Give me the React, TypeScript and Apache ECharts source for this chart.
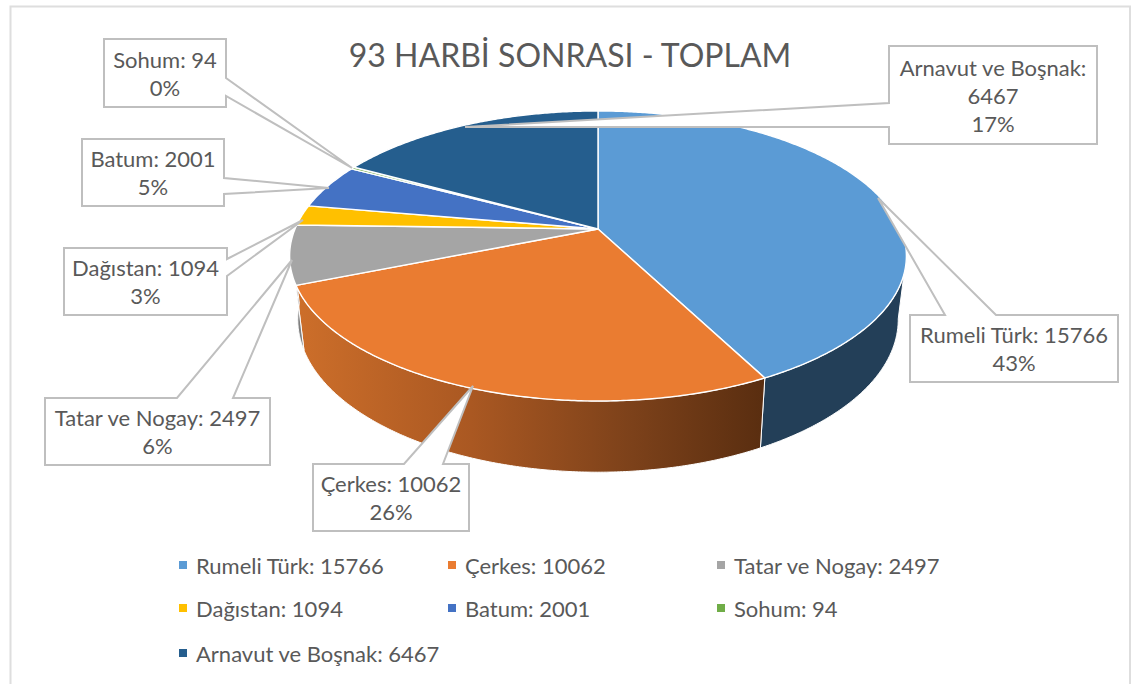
import React, { useEffect, useRef } from "react";
import * as echarts from "echarts";

const TITLE = "93 HARBİ SONRASI - TOPLAM";
const categories = ["Rumeli Türk", "Çerkes", "Tatar ve Nogay", "Dağıstan", "Batum", "Sohum", "Arnavut ve Boşnak"];
const values = [15766, 10062, 2497, 1094, 2001, 94, 6467];
const percentLabels = ["43%", "26%", "6%", "3%", "5%", "0%", "17%"];

const topColors = ["#5B9BD5", "#EA7C31", "#A5A5A5", "#FFC000", "#4472C4", "#70AD47", "#255E8E"];
const FONT = "Lato";
const TEXT = "#595959";
const LINE = "#BFBFBF";

// Projection of the pie's disc (perspective view)
const CX = 598, K = 0.186;
const TOP = { R: 303, hub: 229, S: 140 };
const BOTTOM = { R: 295, hub: 291, S: 147.5 };

const smooth = (a: number, b: number, t: number) => {
  const u = Math.min(1, Math.max(0, (t - a) / (b - a)));
  return u * u * (3 - 2 * u);
};
const warp = (deg: number) => deg + 3.2 * smooth(0, 140, deg) * (1 - smooth(268, 285, deg));
const project = (deg: number, f: { R: number; hub: number; S: number }) => {
  const t = (warp(deg) * Math.PI) / 180;
  const a = Math.sin(t), b = -Math.cos(t), d = 1 - K * b;
  return [CX + (f.R * a) / d, f.hub + (f.S * b) / d];
};
const arc = (d0: number, d1: number, f: any) => {
  const n = Math.max(2, Math.ceil(Math.abs(d1 - d0) / 0.5));
  const pts: number[][] = [];
  for (let i = 0; i <= n; i++) pts.push(project(d0 + ((d1 - d0) * i) / n, f));
  return pts;
};

const total = values.reduce((s, v) => s + v, 0);
const startDeg = (i: number) => (values.slice(0, i).reduce((s, v) => s + v, 0) / total) * 360;

const orangeSide = () =>
  new echarts.graphic.LinearGradient(300, 0, 762, 0, [
    { offset: 0, color: "#CC6E2A" },
    { offset: 0.37, color: "#AA5822" },
    { offset: 0.72, color: "#7C411A" },
    { offset: 1, color: "#5A2E10" },
  ], true);
const sideFill = (i: number): any =>
  i === 0 ? "#233F58" : i === 1 ? orangeSide() : i === 2 ? "#7F7F7F" : "#555";

const renderSlice = (i: number) => () => {
  const d0 = startDeg(i), d1 = startDeg(i + 1);
  const children: any[] = [];
  const s0 = Math.max(d0, 98), s1 = Math.min(d1, 262);
  if (s1 > s0) {
    children.push({
      type: "polygon",
      shape: { points: [...arc(s0, s1, TOP), ...arc(s1, s0, BOTTOM)] },
      style: { fill: sideFill(i), stroke: "#fff", lineWidth: 1 },
    });
  }
  children.push({
    type: "polygon",
    z2: 5,
    shape: { points: [[CX, TOP.hub], ...arc(d0, d1, TOP)] },
    style: { fill: topColors[i], stroke: "#fff", lineWidth: 1.4, lineJoin: "round" },
  });
  return { type: "group", children };
};

// Callouts: box [x0, y0, x1, y1], then the tail as [base, tip, base]
const callouts = [
  { lines: (n: string) => [n], box: [910, 315, 1118, 382], tail: [[945, 315], [878, 198], [996, 315]], edge: "top" },
  { lines: (n: string) => [n], box: [313, 464, 469, 531], tail: [[404, 464], [473, 386], [443, 464]], edge: "top" },
  { lines: (n: string) => [n], box: [45, 398, 270, 465], tail: [[177, 398], [292, 260], [233, 398]], edge: "top" },
  { lines: (n: string) => [n], box: [64, 248, 227, 315], tail: [[227, 259], [303, 220], [227, 276]], edge: "right" },
  { lines: (n: string) => [n], box: [82, 139, 224, 206], tail: [[224, 178], [329, 188], [224, 194]], edge: "right" },
  { lines: (n: string) => [n], box: [104, 39, 226, 107], tail: [[226, 78], [352, 168], [226, 96]], edge: "right" },
  { lines: (n: string) => [n.replace(": ", ":\n")], box: [889, 46, 1097, 144], tail: [[889, 103], [465, 127], [889, 127]], edge: "left" },
];

const calloutOutline = (c: any) => {
  const [x0, y0, x1, y1] = c.box;
  if (c.edge === "top") return [[x0, y0], ...c.tail, [x1, y0], [x1, y1], [x0, y1]];
  if (c.edge === "right") return [[x0, y0], [x1, y0], ...c.tail, [x1, y1], [x0, y1]];
  return [[x0, y0], [x1, y0], [x1, y1], [x0, y1], ...[...c.tail].reverse()];
};

const seriesNames = categories.map((c, i) => `${c}: ${values[i]}`);
const legendSpots = [
  [179, 554], [448, 554], [717, 554],
  [179, 597], [448, 597], [717, 597],
  [179, 642],
];

export default function App() {
  const ref = useRef<HTMLDivElement>(null);
  useEffect(() => {
    const chart = echarts.init(ref.current!, null, { renderer: "svg" });
    const graphics: any[] = [
      {
        type: "rect",
        silent: true,
        z: 0,
        shape: { x: 10.5, y: 6.5, width: 1119.5, height: 720 },
        style: { fill: "none", stroke: "#DEDEDE", lineWidth: 2 },
      },
    ];
    callouts.forEach((c, i) => {
      graphics.push({
        type: "polygon",
        z: 100,
        shape: { points: calloutOutline(c) },
        style: { fill: "#fff", stroke: LINE, lineWidth: 2 },
      });
      const [x0, y0, x1, y1] = c.box;
      graphics.push({
        type: "text",
        z: 101,
        x: (x0 + x1) / 2,
        y: (y0 + y1) / 2,
        style: {
          text: `${c.lines(seriesNames[i])[0]}\n${percentLabels[i]}`,
          fill: TEXT,
          font: `22px ${FONT}`,
          lineHeight: 28,
          align: "center",
          verticalAlign: "middle",
        },
      });
    });
    chart.setOption({
      animation: false,
      backgroundColor: "#fff",
      title: {
        text: TITLE,
        left: 565,
        top: 33,
        textAlign: "center",
        textStyle: { color: TEXT, fontFamily: FONT, fontSize: 32, fontWeight: "normal" },
      },
      legend: seriesNames.map((n, i) => ({
        data: [n],
        left: legendSpots[i][0],
        top: legendSpots[i][1],
        padding: 0,
        icon: "rect",
        itemWidth: 8,
        itemHeight: 8,
        selectedMode: false,
        textStyle: { color: TEXT, fontFamily: FONT, fontSize: 22, padding: [0, 0, 0, 4] },
      })),
      series: seriesNames.map((n, i) => ({
        type: "custom",
        name: n,
        coordinateSystem: "none",
        silent: true,
        color: topColors[i],
        itemStyle: { color: topColors[i] },
        data: [[values[i]]],
        renderItem: renderSlice(i),
      })),
      graphic: { elements: graphics },
    });
    return () => chart.dispose();
  }, []);
  return <div ref={ref} style={{ position: "absolute", left: 0, top: 0, width: 1131, height: 684 }} />;
}
